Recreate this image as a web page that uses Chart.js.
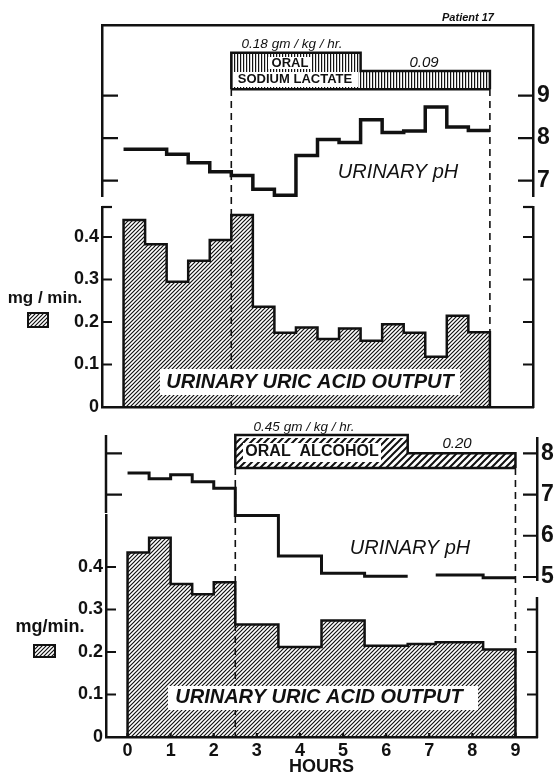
<!DOCTYPE html>
<html>
<head>
<meta charset="utf-8">
<script src="https://cdn.jsdelivr.net/npm/chart.js"></script>
<style>
  html, body { margin: 0; padding: 0; background: #fff; }
  #fig { position: relative; width: 555px; height: 776px; overflow: hidden; background: #fff; }
  #fig canvas { position: absolute; left: 0; }
</style>
</head>
<body>
<div id="fig">
  <canvas id="phTop" width="555" height="200" style="top:0px"></canvas>
  <canvas id="uricTop" width="555" height="331" style="top:89px"></canvas>
  <canvas id="phBottom" width="555" height="165" style="top:420px"></canvas>
  <canvas id="uricBottom" width="555" height="308" style="top:468px"></canvas>
</div>
<script>
// upper panel: sodium lactate, half-hour collection periods (edges in hours)
const hoursTop = [0, 0.5, 1, 1.5, 2, 2.5, 3, 3.5, 4, 4.5, 5, 5.5, 6, 6.5, 7, 7.5, 8, 8.5];
const uricTop = [0.44, 0.383, 0.295, 0.344, 0.393, 0.452, 0.236, 0.175, 0.187, 0.16, 0.185, 0.156, 0.195, 0.175, 0.118, 0.215, 0.176];
const phTop = [7.74, 7.74, 7.62, 7.42, 7.21, 7.12, 6.80, 6.66, 7.59, 7.97, 7.90, 8.43, 8.13, 8.17, 8.73, 8.26, 8.18];
const lactateEdges = [2.5, 5.5, 8.5];
const lactateDose = [0.18, 0.09];

// lower panel: alcohol
const hoursBottom = [0, 0.5, 1, 1.5, 2, 2.5, 3.5, 4.5, 5.5, 6.5, 7.15, 8.25, 9];
const uricBottom = [0.434, 0.469, 0.36, 0.336, 0.364, 0.265, 0.212, 0.274, 0.215, 0.219, 0.223, 0.206];
const phBottom = [7.52, 7.38, 7.48, 7.31, 7.15, 6.49, 5.51, 5.09, 5.02, null, 5.05, 4.98];
const alcoholEdges = [2.5, 6.5, 9];
const alcoholDose = [0.45, 0.20];

const hourTicks = [0, 1, 2, 3, 4, 5, 6, 7, 8, 9];
const uricTicks = [0, 0.1, 0.2, 0.3, 0.4];
const phTicksTop = [7, 8, 9];
const phTicksBottom = [5, 6, 7, 8];
const phLeftTicksBottom = [7, 8];

const ink = '#111';
const FAM = "'Liberation Sans', Arial, Helvetica, sans-serif";
Chart.defaults.font.family = FAM;
Chart.defaults.color = ink;

// histogram outline closed down to zero at both ends
function closedSteps(edges, vals) {
  const pts = [{ x: edges[0], y: 0 }];
  vals.forEach((v, i) => pts.push({ x: edges[i], y: v }));
  pts.push({ x: edges[edges.length - 1], y: vals[vals.length - 1] });
  pts.push({ x: edges[edges.length - 1], y: 0 });
  return pts;
}

// step line, null = missing period
function openSteps(edges, vals) {
  const pts = [];
  vals.forEach((v, i) => {
    if (v === null) {
      pts.push({ x: edges[i], y: vals[i - 1] });
      pts.push({ x: edges[i], y: null });
    } else {
      pts.push({ x: edges[i], y: v });
    }
  });
  pts.push({ x: edges[edges.length - 1], y: vals[vals.length - 1] });
  return pts;
}

function diagHatch(p, lw) {
  const c = document.createElement('canvas');
  c.width = p; c.height = p;
  const g = c.getContext('2d');
  g.strokeStyle = ink; g.lineWidth = lw;
  g.beginPath();
  g.moveTo(-1, p + 1); g.lineTo(p + 1, -1);
  g.moveTo(-1, 1); g.lineTo(1, -1);
  g.moveTo(p - 1, p + 1); g.lineTo(p + 1, p - 1);
  g.stroke();
  return g.createPattern(c, 'repeat');
}

function vertHatch(p, lw) {
  const c = document.createElement('canvas');
  c.width = p; c.height = p;
  const g = c.getContext('2d');
  g.fillStyle = ink;
  g.fillRect(0, 0, lw, p);
  return g.createPattern(c, 'repeat');
}

const uricFill = diagHatch(4, 1.2);
const lactateFill = vertHatch(3, 1.2);
const alcoholFill = diagHatch(7, 2);

function tickList(list) {
  return s => { s.ticks = list.map(v => ({ value: v })); };
}

// fixed box size, no extra room for end labels
function fixSize(key, size) {
  return s => {
    s[key] = size;
    s.paddingTop = 0; s.paddingBottom = 0; s.paddingLeft = 0; s.paddingRight = 0;
  };
}

function xAxis(position, height, extra) {
  return Object.assign({
    type: 'linear', position, min: -0.5, max: 9.5,
    afterBuildTicks: tickList(hourTicks),
    afterFit: fixSize('height', height),
    grid: { drawOnChartArea: false, drawTicks: false },
    border: { color: ink, width: 2.5 },
    ticks: { display: false }
  }, extra);
}

function yAxis(position, min, max, width, list, extra) {
  return Object.assign({
    type: 'linear', position, min, max,
    afterBuildTicks: tickList(list),
    afterFit: fixSize('width', width),
    grid: { drawOnChartArea: false, drawTicks: false },
    border: { color: ink, width: 2.5 },
    ticks: { display: false }
  }, extra);
}

function baseOptions(padding, scales) {
  return {
    responsive: false, animation: false, devicePixelRatio: 1, events: [],
    layout: { padding },
    plugins: { legend: { display: false }, tooltip: { enabled: false } },
    scales
  };
}

const uricLabel = v => v === 0 ? '0' : v.toFixed(1);

// tick marks pointing into the plot
function inTicks(chart, id, len, values) {
  const s = chart.scales[id], a = chart.chartArea, ctx = chart.ctx;
  const vals = values || s.ticks.map(t => t.value);
  ctx.save();
  ctx.strokeStyle = ink; ctx.lineWidth = 2.2;
  ctx.beginPath();
  vals.forEach(v => {
    const p = s.getPixelForValue(v);
    if (s.isHorizontal()) { ctx.moveTo(p, a.bottom); ctx.lineTo(p, a.bottom - len); }
    else if (s.position === 'left') { ctx.moveTo(a.left, p); ctx.lineTo(a.left + len, p); }
    else { ctx.moveTo(a.right, p); ctx.lineTo(a.right - len, p); }
  });
  ctx.stroke();
  ctx.restore();
}

function edgeLine(chart, side, y1, y2) {
  const a = chart.chartArea, ctx = chart.ctx;
  const x = side === 'left' ? a.left : a.right;
  ctx.save();
  ctx.strokeStyle = ink; ctx.lineWidth = 2.5;
  ctx.beginPath(); ctx.moveTo(x, y1); ctx.lineTo(x, y2); ctx.stroke();
  ctx.restore();
}

function dashedLines(chart, xs) {
  const s = chart.scales.x, a = chart.chartArea, ctx = chart.ctx;
  ctx.save();
  ctx.strokeStyle = ink; ctx.lineWidth = 1.6; ctx.setLineDash([7, 5]);
  xs.forEach(v => {
    const p = s.getPixelForValue(v);
    ctx.beginPath(); ctx.moveTo(p, 0); ctx.lineTo(p, a.bottom); ctx.stroke();
  });
  ctx.restore();
}

function text(ctx, str, x, y, font, box) {
  ctx.save();
  if (box) { ctx.fillStyle = '#fff'; ctx.fillRect(box[0], box[1], box[2], box[3]); }
  ctx.font = font + ' ' + FAM;
  ctx.textAlign = 'center'; ctx.textBaseline = 'middle';
  ctx.fillStyle = ink;
  ctx.fillText(str, x, y);
  ctx.restore();
}

function swatch(ctx, x, y, w, h) {
  ctx.save();
  ctx.fillStyle = uricFill; ctx.fillRect(x, y, w, h);
  ctx.strokeStyle = ink; ctx.lineWidth = 2; ctx.strokeRect(x, y, w, h);
  ctx.restore();
}

function stepSet(points, axis, width, fillStyle) {
  return {
    data: points, yAxisID: axis, stepped: 'before',
    borderColor: ink, borderWidth: width, pointRadius: 0,
    backgroundColor: fillStyle || 'transparent',
    fill: fillStyle ? 'origin' : false, clip: false
  };
}

function baseEdge(edges, axis) {
  return stepSet([{ x: edges[0], y: 0 }, { x: edges[edges.length - 1], y: 0 }], axis, 2.5);
}

const tickFont = { size: 18, weight: 'bold' };
const phFont = { size: 23, weight: 'bold' };

// ---- upper pH
new Chart(document.getElementById('phTop'), {
  type: 'line',
  data: { datasets: [
    stepSet(openSteps(hoursTop, phTop), 'yr', 3.5),
    stepSet(closedSteps(lactateEdges, lactateDose), 'yd', 2.5, lactateFill),
    baseEdge(lactateEdges, 'yd')
  ]},
  options: baseOptions({ top: 25, bottom: 4, left: 0, right: 0 }, {
    x: xAxis('top', 0),
    yl: yAxis('left', 6.64, 10.66, 102, phTicksTop),
    yr: yAxis('right', 6.64, 10.66, 22, phTicksTop, { ticks: { font: phFont, padding: 4 } }),
    yd: { type: 'linear', display: false, min: -0.525, max: 0.316 }
  }),
  plugins: [{
    id: 'phTopDecor',
    afterDraw(chart) {
      const ctx = chart.ctx;
      inTicks(chart, 'yl', 16);
      inTicks(chart, 'yr', 15);
      text(ctx, 'Patient 17', 468, 18, 'bold italic 11px');
      text(ctx, '0.18 gm / kg / hr.', 292, 44, 'italic 13.5px');
      text(ctx, '0.09', 424, 63, 'italic 15px');
      text(ctx, 'ORAL', 290, 63, 'bold 13px', [268, 57, 44, 12]);
      text(ctx, 'SODIUM LACTATE', 295, 79, 'bold 13px', [234, 72, 124, 15]);
      text(ctx, 'URINARY pH', 398, 172, 'italic 20px');
    }
  }]
});

// ---- upper uric acid
new Chart(document.getElementById('uricTop'), {
  type: 'line',
  data: { datasets: [stepSet(closedSteps(hoursTop, uricTop), 'yl', 2.5, uricFill)] },
  options: baseOptions({ top: 118, bottom: 13, left: 0, right: 0 }, {
    x: xAxis('bottom', 0),
    yl: yAxis('left', 0, 0.4706, 102, uricTicks, { ticks: { font: tickFont, padding: 3, callback: uricLabel } }),
    yr: yAxis('right', 0, 0.4706, 22, uricTicks)
  }),
  plugins: [{
    id: 'uricTopDecor',
    afterDraw(chart) {
      const ctx = chart.ctx;
      dashedLines(chart, [lactateEdges[0], lactateEdges[lactateEdges.length - 1]]);
      inTicks(chart, 'yl', 10);
      inTicks(chart, 'yr', 10);
      inTicks(chart, 'yl', 10, [chart.scales.yl.max]);
      inTicks(chart, 'yr', 10, [chart.scales.yr.max]);
      text(ctx, 'URINARY URIC ACID OUTPUT', 310, 293, 'bold italic 20px', [160, 280, 300, 26]);
      text(ctx, 'mg / min.', 45, 209, 'bold 17px');
      swatch(ctx, 28, 224, 20, 14);
    }
  }]
});

// ---- lower pH
new Chart(document.getElementById('phBottom'), {
  type: 'line',
  data: { datasets: [
    stepSet(openSteps(hoursBottom, phBottom), 'yr', 3),
    stepSet(closedSteps(alcoholEdges, alcoholDose), 'yd', 2.5, alcoholFill),
    baseEdge(alcoholEdges, 'yd')
  ]},
  options: baseOptions({ top: 18, bottom: 5, left: 0, right: 0 }, {
    x: { type: 'linear', display: false, min: -0.5, max: 9.5 },
    yl: yAxis('left', 4.927, 8.371, 106, phLeftTicksBottom, { border: { display: false } }),
    yr: yAxis('right', 4.927, 8.371, 18, phTicksBottom, { ticks: { font: phFont, padding: 4 } }),
    yd: { type: 'linear', display: false, min: -1.528, max: 0.409 }
  }),
  plugins: [{
    id: 'phBottomDecor',
    afterDraw(chart) {
      const ctx = chart.ctx, a = chart.chartArea;
      edgeLine(chart, 'left', a.top - 3, a.top + 75);
      inTicks(chart, 'yl', 16);
      inTicks(chart, 'yr', 14);
      text(ctx, '0.45 gm / kg / hr.', 304, 7, 'italic 13.5px');
      text(ctx, '0.20', 457, 24, 'italic 15px');
      text(ctx, 'ORAL  ALCOHOL', 312, 32, 'bold 16px', [243, 23, 138, 19]);
      text(ctx, 'URINARY pH', 410, 128, 'italic 20px');
    }
  }]
});

// ---- lower uric acid
new Chart(document.getElementById('uricBottom'), {
  type: 'line',
  data: { datasets: [stepSet(closedSteps(hoursBottom, uricBottom), 'yl', 2.5, uricFill)] },
  options: baseOptions({ top: 47, bottom: 0, left: 0, right: 0 }, {
    x: xAxis('bottom', 39, {
      ticks: { font: { size: 18, weight: 'bold', lineHeight: 1 }, padding: 5 },
      title: { display: true, text: 'HOURS', color: ink, font: { size: 18, weight: 'bold', lineHeight: 1 }, padding: 0 }
    }),
    yl: yAxis('left', 0, 0.5224, 106, uricTicks, { ticks: { font: tickFont, padding: 3, callback: uricLabel } }),
    yr: yAxis('right', 0, 0.5224, 18, uricTicks, { border: { display: false } })
  }),
  plugins: [{
    id: 'uricBottomDecor',
    afterDraw(chart) {
      const ctx = chart.ctx, a = chart.chartArea;
      dashedLines(chart, [alcoholEdges[0], alcoholEdges[alcoholEdges.length - 1]]);
      edgeLine(chart, 'right', a.top + 82, a.bottom + 1);
      inTicks(chart, 'yl', 10);
      inTicks(chart, 'yr', 10, uricTicks.filter(v => v > 0 && v < 0.35));
      inTicks(chart, 'x', 4);
      text(ctx, 'URINARY URIC ACID OUTPUT', 319, 229, 'bold italic 20px', [168, 218, 310, 24]);
      text(ctx, 'mg/min.', 50, 159, 'bold 18px');
      swatch(ctx, 34, 177, 21, 12);
    }
  }]
});
</script>
</body>
</html>
